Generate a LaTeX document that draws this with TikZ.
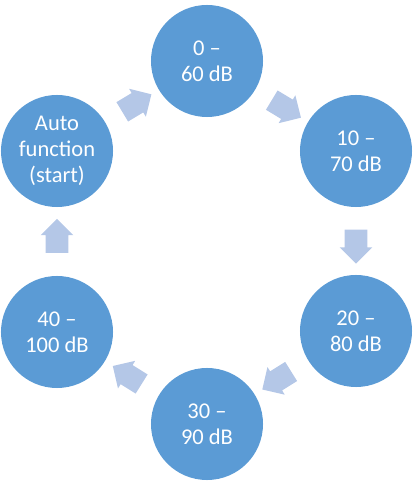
\documentclass[tikz,border=0pt]{standalone}
\usepackage{fontspec}
\setmainfont{Carlito}
\usetikzlibrary{shapes.arrows, calc}
\definecolor{stageblue}{RGB}{91,155,213}
\definecolor{flowblue}{RGB}{180,199,231}

\begin{document}
\begin{tikzpicture}[
  x=0.025cm, y=0.025cm,
  stage/.style={circle, fill=stageblue, text=white, minimum size=2.8cm,
    inner sep=0pt, align=center, font=\fontsize{16}{18.5}\selectfont},
  flow/.style={single arrow, fill=flowblue, minimum height=0.85cm,
    minimum width=0.8cm, single arrow head extend=0.125cm,
    inner xsep=0pt, inner ysep=0.275cm},
  ]
  \useasboundingbox (0,0) rectangle (413,485);

  % Stages of the cycle
  \node[stage] (auto) at (57,334) {Auto\\function\\(start)};
  \node[stage] (s0) at (207,424) {0 –\\60 dB};
  \node[stage] (s1) at (356,334) {10 –\\70 dB};
  \node[stage] (s2) at (356,154) {20 –\\80 dB};
  \node[stage] (s3) at (207,61) {30 –\\90 dB};
  \node[stage] (s4) at (57,153) {40 –\\100 dB};

  % Block arrows half way between neighbours
  \foreach \from/\to/\ang in {auto/s0/31, s0/s1/-31, s1/s2/-90,
      s2/s3/-148, s3/s4/148, s4/auto/90}
    \node[flow, rotate=\ang] (\from-\to) at ($(\from)!0.5!(\to)$) {};
\end{tikzpicture}
\end{document}
